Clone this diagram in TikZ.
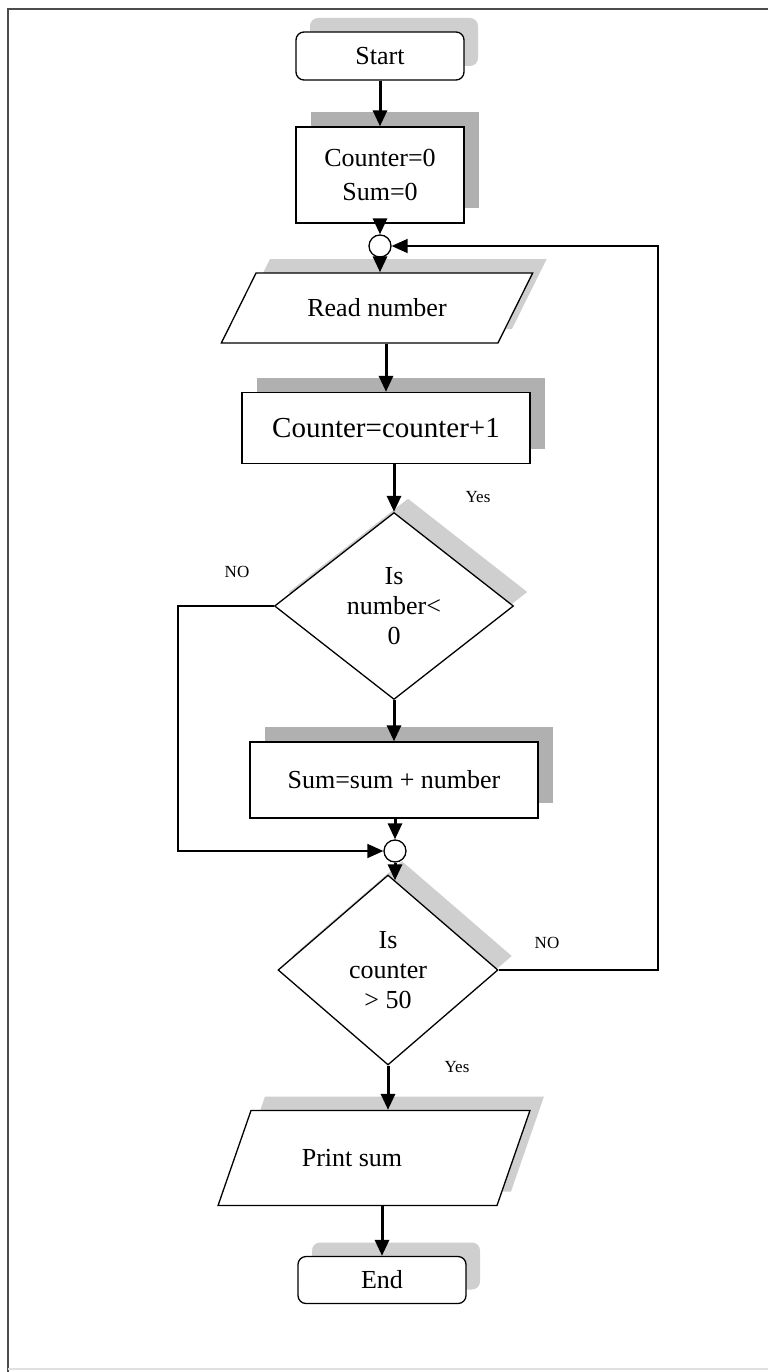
\documentclass[tikz,border=0pt]{standalone}
\usepackage{fontspec}
\setmainfont{Liberation Serif}
\usetikzlibrary{arrows.meta,shapes.geometric,shadows}
\tikzset{
  term/.style     = {draw, line width=1.3pt, rounded corners=8pt, fill=white,
                     minimum width=168pt, minimum height=48pt, align=center},
  procbox/.style  = {draw, line width=1.3pt, rectangle, fill=white, align=center},
  iobox/.style    = {draw, line width=1.3pt, trapezium, trapezium left angle=50,
                     trapezium right angle=130, trapezium stretches=true, fill=white},
  decide/.style   = {draw, line width=1.3pt, diamond, inner sep=0pt, fill=white,
                     align=center},
  joint/.style    = {draw, line width=1.3pt, circle, inner sep=0pt,
                     minimum size=22pt, fill=white},
  darkshade/.style  = {drop shadow={shadow xshift=15pt, shadow yshift=15pt,
                       fill=gray!62, opacity=1}},
  lightshade/.style = {drop shadow={shadow xshift=14pt, shadow yshift=14pt,
                       fill=gray!38, opacity=1}},
  sig/.style      = {-{Triangle[length=16pt,width=14pt]}, line width=3pt},
  back/.style     = {-{Triangle[length=16pt,width=14pt]}, line width=1.6pt},
  lbl/.style      = {font=\fontsize{17}{20}\selectfont},
}

\begin{document}
\begin{tikzpicture}[x=1pt,y=-1pt,font=\fontsize{26}{30}\selectfont]
\useasboundingbox (0,0) rectangle (768,1372);
% frame
\draw[line width=2pt,black!70] (8,1372) -- (8,9) -- (768,9);
\draw[line width=2pt,black!12] (8,1369) -- (768,1369);

% blocks
\node[term,lightshade] (start) at (380,56) {Start};
\node[procbox,darkshade,minimum width=168pt,minimum height=96pt,
      font=\fontsize{26}{34}\selectfont] (init) at (380,175) {Counter=0\\Sum=0};
\node[joint] (c1) at (380,246) {};
\node[iobox,lightshade,minimum width=312pt,minimum height=70pt] (read) at (377,308) {Read number};
\node[procbox,darkshade,minimum width=288pt,minimum height=71pt,
      font=\fontsize{29}{32}\selectfont] (incr) at (386,428) {Counter=counter+1};
\node[decide,lightshade,minimum width=239pt,minimum height=187pt] (d1) at (394,606) {Is\\number<\\0};
\node[procbox,darkshade,minimum width=288pt,minimum height=76pt] (sumup) at (394,780) {Sum=sum + number};
\node[joint] (c2) at (395,851) {};
\node[decide,lightshade,minimum width=220pt,minimum height=190pt] (d2) at (388,970) {Is\\counter\\> 50};
\node[iobox,lightshade,minimum width=312pt,minimum height=95pt] (print) at (374,1158) {Print sum\hspace*{44pt}};
\node[term,lightshade,minimum height=47pt] (stop) at (382,1280) {End};

% labels
\node[lbl] (yes1) at (478,497) {Yes};
\node[lbl] (no1)  at (237,572) {NO};
\node[lbl] (no2)  at (547,943) {NO};
\node[lbl] (yes2) at (457,1067) {Yes};

% rails of the two loops
\coordinate (leftrail)  at (178,0);
\coordinate (rightrail) at (658,0);

% flow
\draw[sig] (start) -- (init);
\draw[sig] (init) -- (c1);
\draw[sig] (c1) -- (c1 |- read.north);
\draw[sig] (read.south -| incr) -- (incr);
\draw[sig] (incr.south -| d1) -- (d1);
\draw[sig] (d1) -- (sumup);
\draw[sig] (sumup.south -| c2) -- (c2);
\draw[sig] (c2) -- ([yshift=-6pt]c2 |- d2.north);
\draw[sig] (d2) -- (d2 |- print.north);
\draw[sig] (print.south -| stop) -- (stop);
\draw[back] (d1) -- (d1 -| leftrail) |- (c2);
\draw[back] (d2) -- (d2 -| rightrail) |- (c1);
\end{tikzpicture}
\end{document}
